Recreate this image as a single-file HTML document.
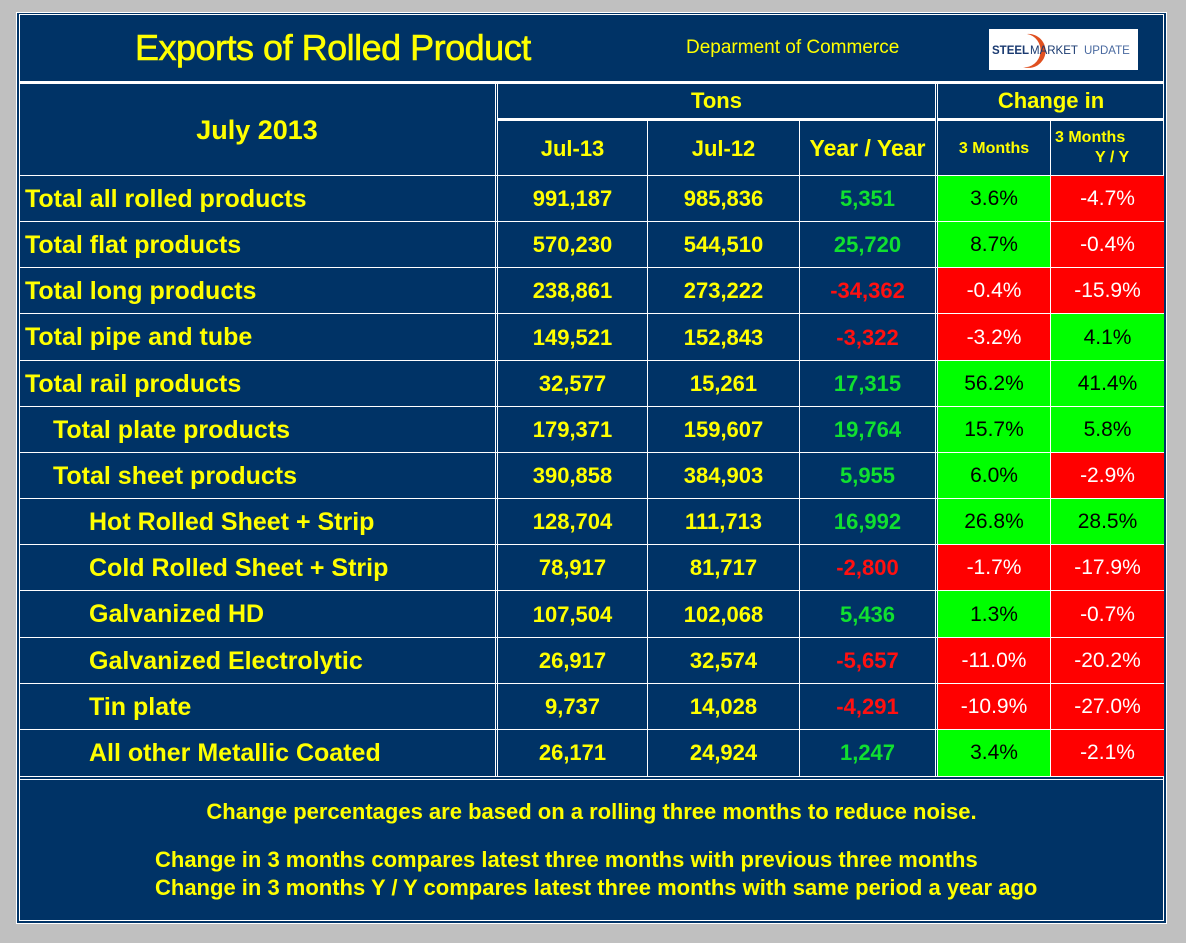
<!DOCTYPE html>
<html><head><meta charset="utf-8"><style>
body{margin:0;width:1186px;height:943px;background:#c0c0c0;position:relative;overflow:hidden;font-family:"Liberation Sans",Arial,sans-serif}
.a{position:absolute;box-sizing:border-box}
.wl{position:absolute;background:#fff}
.t{position:absolute;white-space:nowrap;font-weight:bold;color:#ffff00}
.c{text-align:center;display:flex;align-items:center;justify-content:center}
</style></head><body>
<div class="a" style="left:16px;top:12px;width:1151px;height:912px;border:1px solid #fff;background:#003366"></div>
<div class="a" style="left:19px;top:14px;width:1145px;height:907px;border:1px solid #fff;background:#003366"></div>
<div class="t" style="left:135px;top:27px;font-size:36px;font-weight:normal;letter-spacing:-0.5px;-webkit-text-stroke:0.6px #ffff00">Exports of Rolled Product</div>
<div class="t" style="left:686px;top:37px;font-size:19px;font-weight:normal">Deparment of Commerce</div>
<div class="a" style="left:989px;top:29px;width:149px;height:41px;background:#fff">
<svg width="149" height="41" style="position:absolute;left:0;top:0"><path d="M38 5 A17 17 0 1 1 34 38 A14 15 0 1 0 38 5Z" fill="#e05020"/><text x="3" y="25" font-family="Liberation Sans" font-weight="bold" font-size="11.5" fill="#1a3a70">STEEL</text><text x="41" y="25" font-family="Liberation Sans" font-size="11.5" fill="#1a3a70">MARKET</text><text x="95" y="25" font-family="Liberation Sans" font-size="11.5" fill="#4a6aa0">UPDATE</text></svg></div>
<div class="wl" style="left:19px;top:81px;width:1145px;height:3px"></div>
<div id="tbl"></div>
<div class="t c" style="left:19px;top:799px;width:1145px;font-size:22px">Change percentages are based on a rolling three months to reduce noise.</div>
<div class="t" style="left:155px;top:847px;font-size:22px">Change in 3 months compares latest three months with previous three months</div>
<div class="t" style="left:155px;top:875px;font-size:22px">Change in 3 months Y / Y compares latest three months with same period a year ago</div>
<script>
const labels=["Total all rolled products","Total flat products","Total long products","Total pipe and tube","Total rail products","Total plate products","Total sheet products","Hot Rolled Sheet + Strip","Cold Rolled Sheet + Strip","Galvanized HD","Galvanized Electrolytic","Tin plate","All other Metallic Coated"];
const indent=[0,0,0,0,0,1,1,2,2,2,2,2,2];
const jul13=[991187,570230,238861,149521,32577,179371,390858,128704,78917,107504,26917,9737,26171];
const jul12=[985836,544510,273222,152843,15261,159607,384903,111713,81717,102068,32574,14028,24924];
const yoy=[5351,25720,-34362,-3322,17315,19764,5955,16992,-2800,5436,-5657,-4291,1247];
const chg3=[3.6,8.7,-0.4,-3.2,56.2,15.7,6.0,26.8,-1.7,1.3,-11.0,-10.9,3.4];
const chg3yy=[-4.7,-0.4,-15.9,4.1,41.4,5.8,-2.9,28.5,-17.9,-0.7,-20.2,-27.0,-2.1];
const T=document.getElementById('tbl');
function box(x,y,w,h,html,css,name){const d=document.createElement('div');d.className='t c';d.style.cssText=`left:${x}px;top:${y}px;width:${w}px;height:${h}px;`+css;d.innerHTML=html;


T.appendChild(d);return d;}
function line(x,y,w,h){const d=document.createElement('div');d.className='wl';d.style.cssText=`left:${x}px;top:${y}px;width:${w}px;height:${h}px`;T.appendChild(d);}
const fmt=v=>(v<0?'-':'')+Math.abs(v).toLocaleString('en-US');
box(19,84,476,92,'July 2013','font-size:27px','period-header');
box(498,84,437,34,'Tons','font-size:22px','tons-header');
box(938,84,226,34,'Change in','font-size:22px','change-in-header');
box(498,121,149,55,'Jul-13','font-size:22px','col-jul-13');
box(648,121,151,55,'Jul-12','font-size:22px','col-jul-12');
box(800,121,135,55,'Year / Year','font-size:23px','col-year-year');
box(938,121,112,55,'3 Months','font-size:16px','col-3-months');
box(1051,121,113,55,'<div style="line-height:20px;text-align:left;padding-left:4px">3 Months<br>&nbsp;&nbsp;&nbsp;&nbsp;&nbsp;&nbsp;&nbsp;&nbsp;&nbsp;Y / Y</div>','font-size:16px;justify-content:flex-start;align-items:flex-start;padding-top:7px','col-3-months-yy');
line(498,118,437,3);line(938,118,226,3);
const top0=176,rh=46.15;
const ind=[25,53,89];
labels.forEach((l,i)=>{
 const y=Math.round(top0+i*rh),h=Math.round(top0+(i+1)*rh)-y;
 line(19,y-1,1145,1);
 box(ind[indent[i]],y,470,h,l,'font-size:25px;justify-content:flex-start','row-label');
 box(498,y,149,h,fmt(jul13[i]),'font-size:22px','jul13-value');
 box(648,y,151,h,fmt(jul12[i]),'font-size:22px','jul12-value');
 box(800,y,135,h,fmt(yoy[i]),'font-size:22px;color:'+(yoy[i]<0?'#ff1010':'#10e030'),'yoy-value');
 const p=v=>v.toFixed(1)+'%';
 box(938,y,112,h,p(chg3[i]),'font-size:21px;font-weight:normal;color:'+(chg3[i]<0?'#fff':'#000')+';background:'+(chg3[i]<0?'#ff0000':'#00ff00'),'chg-3m-cell');
 box(1051,y,113,h,p(chg3yy[i]),'font-size:21px;font-weight:normal;color:'+(chg3yy[i]<0?'#fff':'#000')+';background:'+(chg3yy[i]<0?'#ff0000':'#00ff00'),'chg-3m-yy-cell');
});
const yEnd=Math.round(top0+13*rh);
line(19,yEnd,1145,1);line(19,yEnd+3,1145,1);
line(495,84,1,yEnd-84);line(497,84,1,yEnd-84);
line(647,121,1,yEnd-121);line(799,121,1,yEnd-121);
line(935,84,1,yEnd-84);line(937,84,1,yEnd-84);
line(1050,121,1,yEnd-121);
</script>
</body></html>
